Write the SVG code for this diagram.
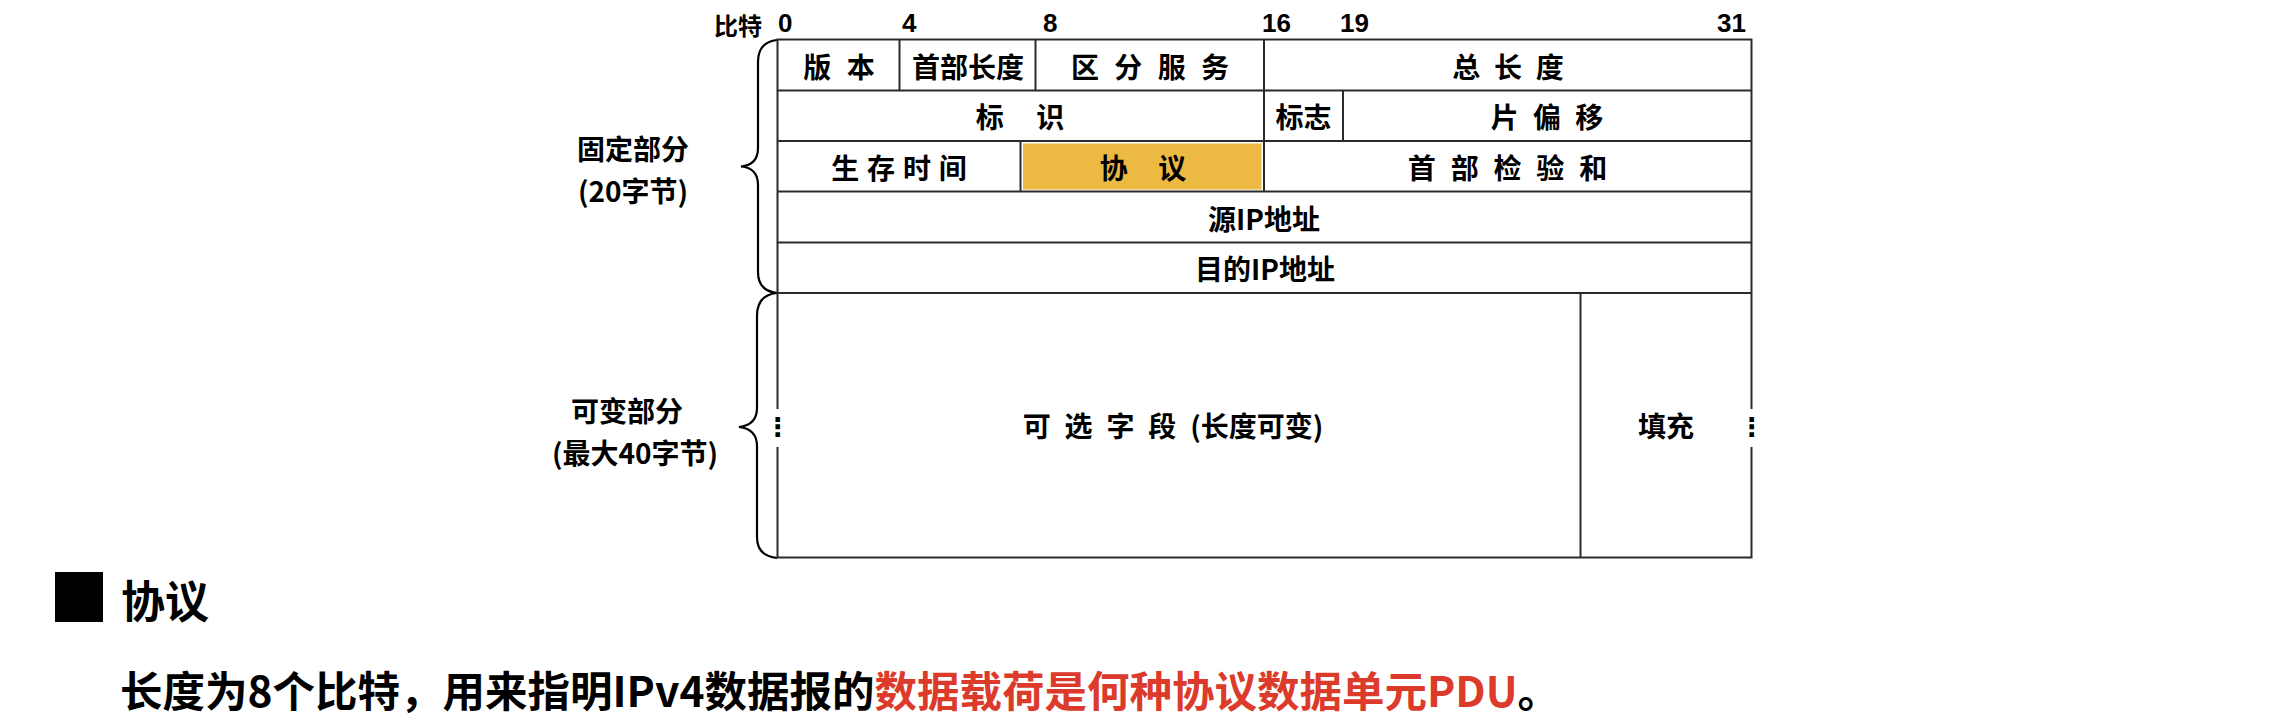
<svg xmlns="http://www.w3.org/2000/svg" width="2288" height="720" viewBox="0 0 2288 720">
<style>
  .cjk { font-family: "Noto Sans CJK SC", "Liberation Sans", sans-serif; font-weight: 700; fill: #000; }
  .cell { font-size: 28px; text-anchor: middle; dominant-baseline: central; }
  .side { font-size: 28px; text-anchor: middle; dominant-baseline: central; }
  .bit { font-family: "Liberation Sans Narrow", "Liberation Sans", sans-serif; font-weight: 700; font-size: 26px; dominant-baseline: central; }
  .grid { stroke: #2a2a2a; stroke-width: 2; fill: none; }
  .brace { stroke: #000; stroke-width: 2.2; fill: none; }
  .dots { font-family: "DejaVu Sans", sans-serif; font-size: 26px; text-anchor: middle; dominant-baseline: central; font-weight: 700; }
</style>
<rect x="0" y="0" width="2288" height="720" fill="#ffffff"/>

<g id="bit-scale">
  <text class="cjk" x="738" y="24" font-size="24" text-anchor="middle" dominant-baseline="central">比特</text>
  <text class="bit" x="778" y="23">0</text>
  <text class="bit" x="902" y="23">4</text>
  <text class="bit" x="1043" y="23">8</text>
  <text class="bit" x="1262" y="23">16</text>
  <text class="bit" x="1340" y="23">19</text>
  <text class="bit" x="1746" y="23" text-anchor="end">31</text>
</g>

<g id="connectors">
  <path class="brace" d="M 777 40 Q 758 42 758 62 L 758 148 Q 758 165 741 166.5 Q 758 168 758 185 L 758 272 Q 758 291 777 293"/>
  <path class="brace" d="M 777 293 Q 757 295 757 316 L 757 408 Q 757 425 739 427 Q 757 429 757 446 L 757 537 Q 757 556 777 558"/>
</g>

<g id="table-grid">
  <rect x="1023" y="143.5" width="238.5" height="46" fill="#ECB943"/>
  <rect class="grid" x="777.5" y="39.5" width="974" height="518"/>
  <line class="grid" x1="777.5" y1="90.5" x2="1751.5" y2="90.5"/>
  <line class="grid" x1="777.5" y1="141" x2="1751.5" y2="141"/>
  <line class="grid" x1="777.5" y1="191.5" x2="1751.5" y2="191.5"/>
  <line class="grid" x1="777.5" y1="242.5" x2="1751.5" y2="242.5"/>
  <line class="grid" x1="777.5" y1="293" x2="1751.5" y2="293"/>
  <line class="grid" x1="899.5" y1="39.5" x2="899.5" y2="90.5"/>
  <line class="grid" x1="1035.5" y1="39.5" x2="1035.5" y2="90.5"/>
  <line class="grid" x1="1264" y1="39.5" x2="1264" y2="191.5"/>
  <line class="grid" x1="1343" y1="90.5" x2="1343" y2="141"/>
  <line class="grid" x1="1020.5" y1="141" x2="1020.5" y2="191.5"/>
  <line class="grid" x1="1580.5" y1="293" x2="1580.5" y2="557.5"/>
  <rect x="768" y="409" width="20" height="38" fill="#ffffff"/>
  <rect x="1726" y="409" width="50" height="38" fill="#ffffff"/>
  <text class="dots" x="777.5" y="427">⋮</text>
  <text class="dots" x="1751.5" y="427">⋮</text>
</g>

<g id="node-version"><text class="cjk cell" x="839" y="66" word-spacing="9">版 本</text></g>
<g id="node-ihl"><text class="cjk cell" x="968" y="66">首部长度</text></g>
<g id="node-ds"><text class="cjk cell" x="1150" y="66" word-spacing="9">区 分 服 务</text></g>
<g id="node-total-length"><text class="cjk cell" x="1508" y="66" word-spacing="7.5">总 长 度</text></g>
<g id="node-id"><text class="cjk cell" x="1020" y="116" word-spacing="26">标 识</text></g>
<g id="node-flags"><text class="cjk cell" x="1303.5" y="116">标志</text></g>
<g id="node-frag"><text class="cjk cell" x="1547" y="116" word-spacing="8">片 偏 移</text></g>
<g id="node-ttl"><text class="cjk cell" x="899" y="167" word-spacing="1.5">生 存 时 间</text></g>
<g id="node-protocol"><text class="cjk cell" x="1143" y="167" word-spacing="24">协 议</text></g>
<g id="node-checksum"><text class="cjk cell" x="1507.5" y="167" word-spacing="8.5">首 部 检 验 和</text></g>
<g id="node-src"><text class="cjk cell" x="1264" y="218">源IP地址</text></g>
<g id="node-dst"><text class="cjk cell" x="1265" y="268">目的IP地址</text></g>
<g id="node-options"><text class="cjk cell" x="1173" y="425" word-spacing="7.5">可 选 字 段 (长度可变)</text></g>
<g id="node-padding"><text class="cjk cell" x="1666" y="425">填充</text></g>

<g id="node-fixed-label">
  <text class="cjk side" x="633" y="148">固定部分</text>
  <text class="cjk side" x="633" y="190">(20字节)</text>
</g>
<g id="node-variable-label">
  <text class="cjk side" x="627" y="410">可变部分</text>
  <text class="cjk side" x="635" y="452">(最大40字节)</text>
</g>

<g id="node-note">
  <rect x="55" y="572" width="48" height="50" fill="#000"/>
  <text class="cjk" x="121" y="599" font-size="44" dominant-baseline="central">协议</text>
  <text class="cjk" x="120" y="688" font-size="42.5" dominant-baseline="central">长度为8个比特，用来指明IPv4数据报的<tspan fill="#DC3B2B">数据载荷是何种协议数据单元PDU</tspan>。</text>
</g>
</svg>
